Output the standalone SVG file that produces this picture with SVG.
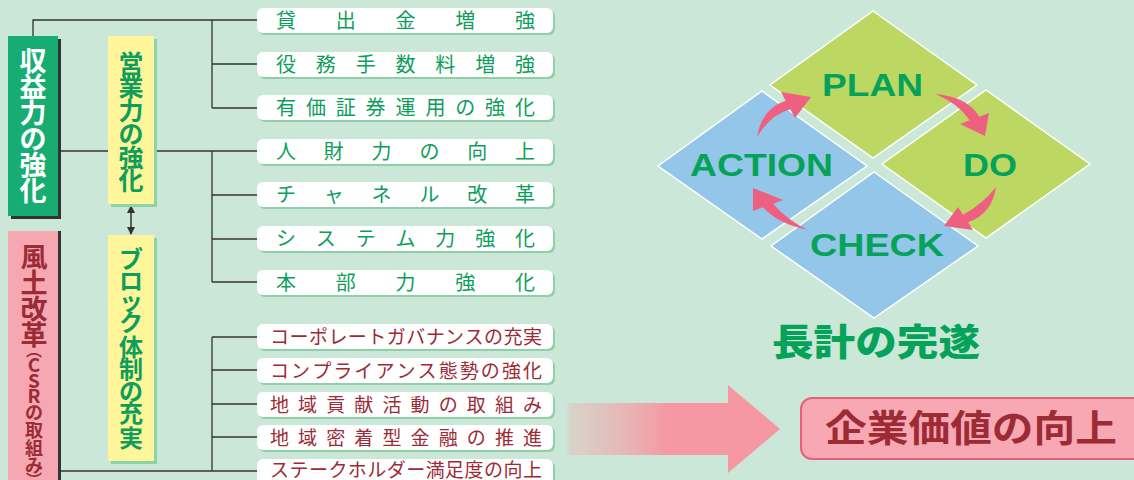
<svg xmlns="http://www.w3.org/2000/svg" width="1134" height="480" viewBox="0 0 1134 480">
<style>
.ln{stroke:#333;stroke-width:1.3;fill:none}
.lbox{fill:#fff}
.lsh{fill:#8fd0a9}
.gt{font-family:"Noto Sans CJK JP","Noto Sans",sans-serif;font-size:20px;fill:#0c9e5a}
.rt{font-family:"Noto Sans CJK JP","Noto Sans",sans-serif;font-size:19px;fill:#9c2b36}
.vt{font-family:"Noto Sans CJK JP","Noto Sans",sans-serif;font-weight:bold;text-anchor:middle}
.pd{font-family:"Liberation Sans","Noto Sans",sans-serif;font-weight:bold;font-size:31px;fill:#05a35a}
.dia{stroke:#fff;stroke-width:1.5}
.pa{fill:#ef5f80}
</style>
<defs>
<marker id="ah" markerWidth="8" markerHeight="8" refX="7" refY="4" orient="auto-start-reverse" markerUnits="userSpaceOnUse">
<path d="M0,0 L8,4 L0,8 Z" fill="#333"/>
</marker>
<linearGradient id="ag" gradientUnits="userSpaceOnUse" x1="566" y1="0" x2="668" y2="0">
<stop offset="0" stop-color="#f598a3" stop-opacity="0"/>
<stop offset="0.06" stop-color="#e8b8b4" stop-opacity="0.45"/>
<stop offset="1" stop-color="#f598a3" stop-opacity="1"/>
</linearGradient>
</defs>
<rect width="1134" height="480" fill="#cbe7d8"/>

<g id="connectors">
<path class="ln" d="M33,36 V20 H257"/>
<path class="ln" d="M212,20 V108 M212,64 H257 M212,108 H257"/>
<path class="ln" d="M58,151 H257 M212,151 V282 M212,195 H257 M212,239 H257 M212,282 H257"/>
<path class="ln" d="M60,471 H257 M212,337 V471 M212,337 H257 M212,370 H257 M212,404 H257 M212,437 H257"/>
<line x1="131" y1="206" x2="131" y2="234" stroke="#333" stroke-width="1.5" marker-start="url(#ah)" marker-end="url(#ah)"/>
</g>

<g id="node-shueki">
<rect x="11" y="39" width="50" height="180" fill="#333"/>
<rect x="8" y="36" width="50" height="180" fill="#17ad72"/>
<text class="vt" font-size="27" fill="#fff" x="33 33 33 33 33 33" y="71 97 123 149 175 201">収益力の強化</text>
</g>

<g id="node-fudo">
<rect x="8" y="231" width="53" height="249" fill="#333"/>
<rect x="8" y="231" width="50" height="249" fill="#f5a8b2"/>
<text class="vt" font-size="27" fill="#9c2b36" x="34 34 34 34" y="267 293 319 345">風土改革</text>
<text class="vt" font-size="16" fill="#9c2b36" x="34" y="356">︵</text>
<text class="vt" font-size="19" fill="#9c2b36" font-family="Liberation Sans" x="34 34 34" y="372 388 403">CSR</text>
<text class="vt" font-size="18" fill="#9c2b36" x="34 34 34 34" y="419 437 455 472">の取組み</text>
<text class="vt" font-size="16" fill="#9c2b36" x="34" y="486">︶</text>
</g>

<g id="node-eigyo">
<rect x="111" y="39" width="46" height="168" fill="#8dd3a8"/>
<rect x="108" y="36" width="46" height="168" fill="#fff59a"/>
<text class="vt" font-size="25" fill="#0c9e5a" x="131 131 131 131 131 131" y="72.5 96 119.5 143 166.5 190">営業力の強化</text>
</g>

<g id="node-block">
<rect x="111" y="238" width="46" height="226" fill="#8dd3a8"/>
<rect x="108" y="235" width="46" height="226" fill="#fff59a"/>
<text class="vt" font-size="24" fill="#0c9e5a" x="131 131 131 131 131 131 131 131 131" y="268 290 310 331 356 378 400 422 447">ブロック体制の充実</text>
</g>

<g id="item-1"><rect class="lsh" x="259" y="10" width="296" height="25" rx="6"/><rect class="lbox" x="257" y="8" width="296" height="25" rx="6"/>
<text class="gt" x="276 335.75 395.5 455.25 515" y="27.5">貸出金増強</text></g>
<g id="item-2"><rect class="lsh" x="259" y="54" width="296" height="25" rx="6"/><rect class="lbox" x="257" y="52" width="296" height="25" rx="6"/>
<text class="gt" x="276 315.8 355.7 395.5 435.3 475.2 515" y="71.5">役務手数料増強</text></g>
<g id="item-3"><rect class="lsh" x="259" y="97" width="296" height="25" rx="6"/><rect class="lbox" x="257" y="95" width="296" height="25" rx="6"/>
<text class="gt" x="276 305.9 335.75 365.6 395.5 425.4 455.25 485.1 515" y="114.5">有価証券運用の強化</text></g>
<g id="item-4"><rect class="lsh" x="259" y="141" width="296" height="25" rx="6"/><rect class="lbox" x="257" y="139" width="296" height="25" rx="6"/>
<text class="gt" x="276 323.8 371.6 419.4 467.2 515" y="158.5">人財力の向上</text></g>
<g id="item-5"><rect class="lsh" x="259" y="184" width="296" height="25" rx="6"/><rect class="lbox" x="257" y="182" width="296" height="25" rx="6"/>
<text class="gt" x="276 323.8 371.6 419.4 467.2 515" y="201.5">チャネル改革</text></g>
<g id="item-6"><rect class="lsh" x="259" y="228" width="296" height="25" rx="6"/><rect class="lbox" x="257" y="226" width="296" height="25" rx="6"/>
<text class="gt" x="276 315.8 355.7 395.5 435.3 475.2 515" y="245.5">システム力強化</text></g>
<g id="item-7"><rect class="lsh" x="259" y="272" width="296" height="25" rx="6"/><rect class="lbox" x="257" y="270" width="296" height="25" rx="6"/>
<text class="gt" x="276 335.75 395.5 455.25 515" y="289.5">本部力強化</text></g>

<g id="item-8"><rect class="lsh" x="259" y="326" width="296" height="25" rx="6"/><rect class="lbox" x="257" y="324" width="296" height="25" rx="6"/>
<text class="rt" x="270 289.5 308.9 328.4 347.8 367.3 386.8 406.2 425.7 445.1 464.6 484.1 503.5 523" y="343.5">コーポレートガバナンスの充実</text></g>
<g id="item-9"><rect class="lsh" x="259" y="360" width="296" height="25" rx="6"/><rect class="lbox" x="257" y="358" width="296" height="25" rx="6"/>
<text class="rt" x="270 291.1 312.2 333.3 354.3 375.4 396.5 417.6 438.7 459.8 480.8 501.9 523" y="377.5">コンプライアンス態勢の強化</text></g>
<g id="item-10"><rect class="lsh" x="259" y="394" width="296" height="25" rx="6"/><rect class="lbox" x="257" y="392" width="296" height="25" rx="6"/>
<text class="rt" x="270 298.1 326.2 354.3 382.4 410.6 438.7 466.8 494.9 523" y="411.5">地域貢献活動の取組み</text></g>
<g id="item-11"><rect class="lsh" x="259" y="427" width="296" height="25" rx="6"/><rect class="lbox" x="257" y="425" width="296" height="25" rx="6"/>
<text class="rt" x="270 298.1 326.2 354.3 382.4 410.6 438.7 466.8 494.9 523" y="444.5">地域密着型金融の推進</text></g>
<g id="item-12"><rect class="lsh" x="259" y="461" width="296" height="25" rx="6"/><rect class="lbox" x="257" y="459" width="296" height="25" rx="6"/>
<text class="rt" x="270 289.5 308.9 328.4 347.8 367.3 386.8 406.2 425.7 445.1 464.6 484.1 503.5 523" y="477">ステークホルダー満足度の向上</text></g>

<g id="pdca">
<polygon class="dia" fill="#bdd862" points="873,11 977,85 873,158 770,85"/>
<polygon class="dia" fill="#bdd862" points="986,90 1090,164 986,238 882,164"/>
<polygon class="dia" fill="#93c6e8" points="762,91 867,166 762,239 658,166"/>
<polygon class="dia" fill="#93c6e8" points="874,172 978,246 874,318 771,246"/>
<text class="pd" x="822" y="96" textLength="101" lengthAdjust="spacingAndGlyphs">PLAN</text>
<text class="pd" x="690" y="176" textLength="143" lengthAdjust="spacingAndGlyphs">ACTION</text>
<text class="pd" x="963" y="176" textLength="54" lengthAdjust="spacingAndGlyphs">DO</text>
<text class="pd" x="810" y="256" textLength="134" lengthAdjust="spacingAndGlyphs">CHECK</text>
<path class="pa" d="M757,137 Q762,108 785.7,100.7 L781,92 L811,97 L795,118 L790.3,109.3 Q770,115 757,137 Z"/>
<path class="pa" d="M935,94 Q968,97 979.3,116.7 L989,113 L985,136 L960,124 L969.7,120.3 Q958,103 935,94 Z"/>
<path class="pa" d="M996,187 Q992,214 968,222.3 L973,230 L944,226 L958,207 L963,214.7 Q983,204 996,187 Z"/>
<path class="pa" d="M808,230 Q778,224 763,207.3 L753,211 L753,188 L783,200 L773,203.7 Q787,220 808,230 Z"/>
</g>

<g id="title-chokei">
<text font-family="Noto Sans CJK JP, sans-serif" font-weight="900" font-size="37" fill="#05a35a" x="772" y="356" textLength="208" lengthAdjust="spacingAndGlyphs">長計の完遂</text>
</g>

<g id="big-arrow">
<path d="M566,403 H728 V385 L780,429 L728,473 V455 H566 Z" fill="url(#ag)"/>
</g>

<g id="node-kigyo">
<rect x="801" y="398" width="345" height="61" rx="11" fill="#f7a8b2" stroke="#e8607a" stroke-width="2"/>
<text font-family="Noto Sans CJK JP, sans-serif" font-weight="bold" font-size="37" fill="#9c2b36" x="825" y="442" textLength="292" lengthAdjust="spacingAndGlyphs">企業価値の向上</text>
</g>
</svg>
